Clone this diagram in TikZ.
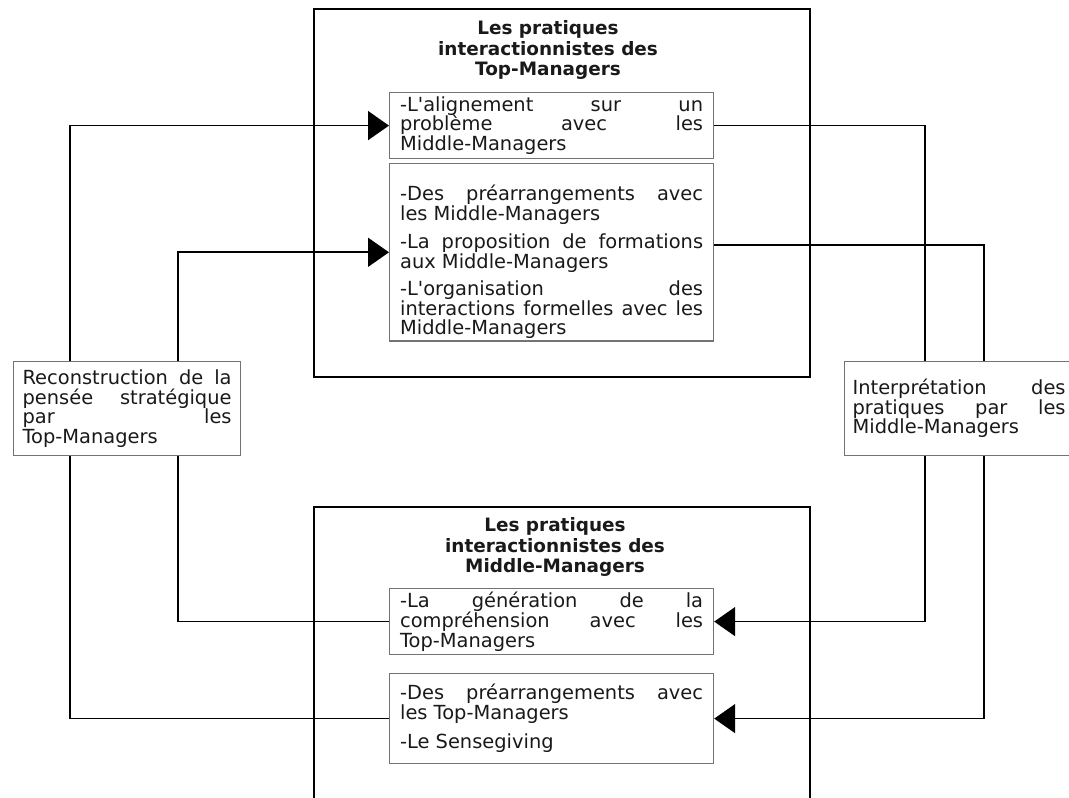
\documentclass[tikz,border=0pt]{standalone}
\usepackage{fontspec}
\setmainfont{DejaVu Sans}
\usetikzlibrary{arrows.meta}
\setlength{\parindent}{0pt}
\tolerance=10000
\hbadness=10000
\hyphenpenalty=10000

\begin{document}
\begin{tikzpicture}[x=1bp, y=-1bp,
  bloc/.style={draw=black, line width=2.4bp, anchor=north west, inner sep=0pt},
  titre/.style={align=center, text=black!90, font=\fontsize{18.5}{20.5}\selectfont\bfseries},
  pratique/.style={draw=black!55, line width=1.2bp, anchor=north west, minimum width=324bp,
    text width=303bp, inner xsep=8bp, inner ysep=2bp, align=justify, text=black!90,
    font=\fontsize{19.5}{20}\selectfont},
  cote/.style={draw=black!55, line width=1.2bp, anchor=north west, minimum height=94bp,
    inner xsep=9bp, align=justify, text=black!90, font=\fontsize{19.5}{19.5}\selectfont},
  lien/.style={draw=black, line width=1.7bp},
  fleche/.style={lien, -{Triangle[length=21bp,width=29bp]}}]
\useasboundingbox (0,0) rectangle (1069,798);
\clip (0,0) rectangle (1069,798);
% colonnes des connecteurs
\coordinate (colA) at (70,0);
\coordinate (colB) at (178,0);
\coordinate (colC) at (925,0);
\coordinate (colD) at (984,0);

% bloc du haut
\node[bloc, minimum width=496bp, minimum height=368bp] (blocTop) at (313,8) {};
\node[titre] (titreTop) at (548,50) {Les pratiques\\interactionnistes des\\Top-Managers};
\node[pratique, minimum height=66bp] (aligne) at (389,92)
  {-L\textquotesingle alignement sur un\linebreak problème avec les\linebreak Middle-Managers};
\node[pratique, minimum height=174bp] (formation) at (389,163)
  {\rule{0pt}{35pt}-Des préarrangements avec\linebreak les Middle-Managers\par\vspace{8pt}
   -La proposition de formations\linebreak aux Middle-Managers\par\vspace{7pt}
   -L\textquotesingle organisation des\linebreak interactions formelles avec les\linebreak Middle-Managers};

% boites laterales
\node[cote, text width=209bp] (recon) at (13,361)
  {Reconstruction de la\linebreak pensée stratégique\linebreak par les\linebreak Top-Managers};
\node[cote, text width=213bp, inner xsep=8bp] (interp) at (844,361)
  {Interprétation des\linebreak pratiques par les\linebreak Middle-Managers};

% bloc du bas
\node[bloc, minimum width=496bp, minimum height=320bp] (blocMid) at (313,506) {};
\node[titre] (titreMid) at (555,547) {Les pratiques\\interactionnistes des\\Middle-Managers};
\node[pratique, minimum height=66bp] (genera) at (389,588)
  {-La génération de la\linebreak compréhension avec les\linebreak Top-Managers};
\node[pratique, minimum height=90bp] (sensegiv) at (389,673)
  {-Des préarrangements avec\linebreak les Top-Managers\par\vspace{9pt}-Le Sensegiving};

% connecteurs gauche
\draw[fleche] (recon.north -| colA) |- (aligne.west);
\draw[lien] (sensegiv.west) -| (recon.south -| colA);
\draw[fleche] (recon.north -| colB) |- (formation.west);
\draw[lien] (genera.west) -| (recon.south -| colB);
% connecteurs droite
\draw[lien] (aligne.east) -| (interp.north -| colC);
\draw[fleche] (interp.south -| colC) |- (genera.east);
\draw[lien] ([yshift=7bp]formation.east) -| (interp.north -| colD);
\draw[fleche] (interp.south -| colD) |- (sensegiv.east);
\end{tikzpicture}
\end{document}
